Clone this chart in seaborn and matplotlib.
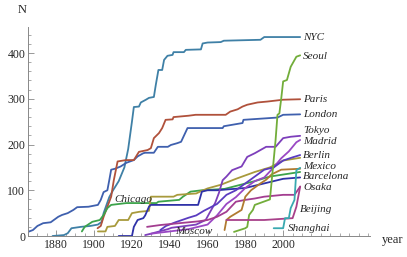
import pandas as pd
import numpy as np
import matplotlib.pyplot as plt
import seaborn as sns

# ---------------------------------------------------
# Data: number of stations N per city vs year
# ---------------------------------------------------
nyc_years = [1878, 1884, 1886, 1888, 1893, 1898, 1902, 1904, 1905, 1908, 1910, 1913, 1916, 1918, 1920, 1921,
             1923.7, 1924.7, 1927.4, 1929, 1931.6, 1932.6, 1934, 1936, 1937, 1938.8, 1941.5, 1942, 1947.5,
             1948.5, 1956.5, 1957.4, 1960, 1967, 1968.6, 1988, 1990, 2009]
nyc_n = [0, 2, 6, 17, 20, 22, 25, 31, 50, 85, 100, 120, 150, 190, 250, 282, 283, 292, 298, 302, 304, 330, 363,
         363, 385, 394, 396, 402, 402, 407, 408, 421, 423, 424, 427, 429, 435, 435]

london_years = [1865, 1867.6, 1870, 1873, 1877, 1881, 1883, 1886, 1889, 1891, 1897, 1902, 1903.5, 1905, 1907,
                1908, 1909, 1911, 1914, 1917, 1921, 1923, 1926, 1927, 1931.6, 1933.7, 1939, 1940.6, 1944, 1946,
                1949.4, 1968, 1968.6, 1978.5, 1979, 1997, 2000, 2009]
london_n = [9, 13, 22, 28, 30, 42, 46, 50, 57, 63, 64, 68, 79, 96, 100, 122, 145, 147, 152, 160, 166, 174, 181,
            182, 182, 195, 195, 199, 203, 206, 236, 236, 240, 247, 254, 259, 265, 266]

paris_years = [1901.8, 1903.5, 1905, 1909, 1910.4, 1912.4, 1916.8, 1921, 1923.7, 1928.3, 1930, 1931.6, 1934.3,
               1936, 1937.8, 1941.5, 1942, 1950, 1953.7, 1969.6, 1972, 1975.9, 1978.5, 1981, 1986.5, 1991.7,
               2000, 2009]
paris_n = [17, 22, 42, 86, 122, 163, 166, 166, 184, 188, 192, 214, 225, 236, 254, 255, 260, 263, 265, 265, 272,
           277, 283, 287, 292, 294, 298, 299]

chicago_years = [1893.5, 1895, 1899, 1903, 1905, 1907, 1909, 1917, 1933, 1934, 1945, 1947, 1951, 1957, 1969,
                 1985, 1993, 2009]
chicago_n = [10, 20, 31, 35, 46, 61, 68, 72, 72, 75, 79, 86, 97, 100, 103, 120, 130, 140]

berlin_years = [1902, 1906, 1907, 1911, 1913, 1918, 1920, 1924, 1929, 1930, 1942, 1944, 1954, 1956, 1960, 1967,
                1975, 1985, 1993, 2000, 2009]
berlin_n = [10, 10, 20, 22, 35, 35, 50, 53, 55, 86, 86, 90, 93, 97, 104, 112, 125, 140, 150, 165, 171]

barcelona_years = [1913, 1920, 1921, 1923, 1926, 1927, 1929, 1930, 1955, 1957, 1960, 1965, 1980, 1985, 1995,
                   2000, 2009]
barcelona_n = [0, 0, 20, 35, 39, 45, 64, 68, 68, 97, 100, 100, 105, 110, 120, 125, 128]

tokyo_years = [1927, 1930, 1939, 1941, 1954, 1959, 1961, 1964, 1966, 1968, 1970, 1973, 1978, 1981, 1985, 1988,
               1991, 1996, 2000, 2004, 2009]
tokyo_n = [2, 5, 15, 18, 25, 35, 50, 72, 94, 122, 130, 144, 152, 173, 181, 188, 195, 195, 214, 217, 219]

madrid_years = [1930, 1940, 1950, 1960, 1965, 1970, 1975, 1980, 1985, 1990, 1995, 1999, 2003, 2007, 2009]
madrid_n = [5, 10, 15, 25, 45, 70, 85, 105, 120, 128, 150, 170, 185, 205, 210]

moscow_years = [1935, 1938, 1943, 1950, 1954, 1958, 1965, 1970, 1975, 1980, 1985, 1990, 1995, 2000, 2005, 2009]
moscow_n = [13, 22, 30, 40, 45, 55, 70, 90, 100, 115, 130, 145, 150, 165, 172, 177]

osaka_years = [1928, 1935, 1945, 1955, 1960, 1965, 1970, 1975, 1980, 1985, 1990, 2000, 2006, 2009]
osaka_n = [20, 24, 28, 32, 35, 42, 53, 75, 79, 82, 86, 90, 90, 108]

mexico_years = [1969, 1970, 1972, 1978, 1980, 1983, 1988, 1991, 1994, 1999, 2009]
mexico_n = [13, 35, 42, 57, 86, 100, 115, 123, 135, 145, 147]

seoul_years = [1974, 1980, 1981, 1982, 1984, 1985, 1993, 1994, 1996, 1997, 1998, 1999, 2000, 2002, 2004, 2007,
               2009]
seoul_n = [9, 17, 20, 46, 57, 68, 80, 123, 210, 265, 268, 301, 338, 341, 370, 392, 395]

beijing_years = [1970, 1990, 2005, 2007, 2008, 2009]
beijing_n = [35, 35, 39, 64, 86, 108]

shanghai_years = [1995, 2000, 2001, 2003, 2004, 2006, 2007, 2009]
shanghai_n = [17, 17, 39, 39, 61, 79, 144, 149]

series = [
    ("NYC", nyc_years, nyc_n, "#3f80a6"),
    ("London", london_years, london_n, "#3f60ae"),
    ("Paris", paris_years, paris_n, "#b0513b"),
    ("Chicago", chicago_years, chicago_n, "#3da34b"),
    ("Berlin", berlin_years, berlin_n, "#a89a3c"),
    ("Barcelona", barcelona_years, barcelona_n, "#2f32a8"),
    ("Tokyo", tokyo_years, tokyo_n, "#7d3fbb"),
    ("Madrid", madrid_years, madrid_n, "#9a48c4"),
    ("Moscow", moscow_years, moscow_n, "#5a3cc0"),
    ("Osaka", osaka_years, osaka_n, "#a33d90"),
    ("Mexico", mexico_years, mexico_n, "#b07a30"),
    ("Seoul", seoul_years, seoul_n, "#72ad3a"),
    ("Beijing", beijing_years, beijing_n, "#a8408a"),
    ("Shanghai", shanghai_years, shanghai_n, "#38a9b0"),
]

# labels: (text, year, N)
end_labels = [("NYC", 2010.5, 435), ("Seoul", 2010.5, 393), ("Paris", 2010.5, 299), ("London", 2010.5, 266),
              ("Tokyo", 2010.5, 231), ("Madrid", 2010.5, 207), ("Berlin", 2010.5, 177),
              ("Mexico", 2010.5, 151), ("Barcelona", 2010.5, 131), ("Osaka", 2010.5, 107),
              ("Beijing", 2009, 57), ("Shanghai", 2002.5, 17),
              ("Chicago", 1910.5, 79), ("Moscow", 1943, 9)]

# ---------------------------------------------------
# Plot
# ---------------------------------------------------
sns.set_style("ticks")
plt.rcParams["font.family"] = ["Liberation Serif", "DejaVu Serif"]

fig = plt.figure(figsize=(4.07, 2.57), dpi=100)
ax = fig.add_axes([0.0688, 0.0817, 0.8405, 0.8133])

for name, yrs, n, col in series:
    dd = pd.DataFrame({"year": yrs, "N": n})
    sns.lineplot(data=dd, x="year", y="N", color=col, lw=1.3, estimator=None, sort=False, ax=ax)

ax.set_xlim(1865, 2046)
ax.set_ylim(0, 457)
ax.set_xticks([1880, 1900, 1920, 1940, 1960, 1980, 2000])
ax.set_xticks(np.arange(1865, 2046, 5), minor=True)
ax.set_yticks([0, 100, 200, 300, 400])
ax.set_yticks(np.arange(0, 457, 20), minor=True)
ax.tick_params(direction="in", length=4, width=0.6, color="#888888", labelsize=8.5, pad=2)
ax.tick_params(which="minor", direction="in", length=2, width=0.5, color="#888888")
for s in ["top", "right"]:
    ax.spines[s].set_visible(False)
for s in ["left", "bottom"]:
    ax.spines[s].set_color("#888888")
    ax.spines[s].set_linewidth(0.7)
ax.set_xlabel("")
ax.set_ylabel("")

for name, x, y in end_labels:
    ax.text(x, y, name, fontsize=8, style="italic", va="center", ha="left")

fig.text(22 / 407, 1 - 10 / 257, "N", fontsize=9, ha="center", va="center")
fig.text(393 / 407, 1 - 240 / 257, "year", fontsize=9, ha="center", va="center")

plt.savefig("out.png", dpi=100)
